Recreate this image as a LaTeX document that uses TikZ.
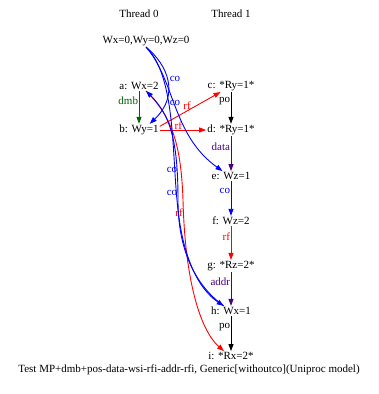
\documentclass[tikz,border=0pt]{standalone}
\usepackage{fontspec}
\setmainfont{Liberation Serif}
\usetikzlibrary{arrows.meta,positioning}

\definecolor{dmbgreen}{RGB}{0,100,0}
\definecolor{deppurple}{RGB}{75,0,130}

\begin{document}
\begin{tikzpicture}[x=1pt,y=-1pt,node distance=45pt,on grid,
    >={Triangle[length=7pt,width=5pt]},
    ev/.style={inner sep=1pt,font=\fontsize{11}{13}\selectfont},
    lbl/.style={inner sep=0.5pt,font=\fontsize{11}{13}\selectfont},
    rel/.style={->,line width=0.9pt},
    every edge/.style={draw,rel}]
   \useasboundingbox (0,0) rectangle (379,394);
   % events
   \node[ev] (a) at (139,86) {a: Wx=2};
   \node[ev] (b) [below=44pt of a] {b: Wy=1};
   \node[ev] (c) [right=92pt of a] {c: *Ry=1*};
   \node[ev] (d) [below=44pt of c] {d: *Ry=1*};
   \node[ev] (e) [below=46pt of d] {e: Wz=1};
   \node[ev] (f) [below=of e] {f: Wz=2};
   \node[ev] (g) [below=of f] {g: *Rz=2*};
   \node[ev] (h) [below=of g] {h: Wx=1};
   \node[ev] (i) [below=of h] {i: *Rx=2*};
   \node[ev] (th0) [above=72pt of a] {Thread 0};
   \node[ev] (th1) [above=72pt of c] {Thread 1};
   \node[ev] (init) at (146,41) {Wx=0,Wy=0,Wz=0};
   \node[ev] (cap) at (189,370) {Test MP+dmb+pos-data-wsi-rfi-addr-rfi, Generic[withoutco](Uniproc model)};
   % program order and dependencies
   \path
    (a) edge[dmbgreen] node[lbl,left,pos=0.3,dmbgreen] {dmb} (b)
    (c) edge node[lbl,left,pos=0.3] {po} (d)
    (d) edge[deppurple] node[lbl,left,pos=0.3,deppurple] {data} (e)
    (e) edge[blue] node[lbl,left,pos=0.3,blue] {co} (f)
    (f) edge[red] node[lbl,left,pos=0.3,red] {rf} (g)
    (g) edge[deppurple] node[lbl,left,pos=0.3,deppurple] {addr} (h)
    (h) edge node[lbl,left,pos=0.3] {po} (i)
    (b.10) edge[red] node[lbl,above,pos=0.45,red] {rf} (c.-150)
    (b.east) edge[red] node[lbl,above,pos=0.4,red] {rf} (d.west);
   % coherence and read-from curves
   \draw[rel,red] (a.-35) .. controls (170,115) and (181,140) .. (183,200)
     .. controls (185,280) and (200,330) .. (i.145)
     node[lbl,red] at (179,213) {rf};
   \draw[rel,blue] (init.south) .. controls (168,65) and (180,95) .. (b.30)
     node[lbl,blue] at (175,79) {co};
   \draw[rel,blue] (init.south) .. controls (175,80) and (172,135) .. (e.150)
     node[lbl,blue] at (175,103) {co};
   \draw[rel,blue] (init.south) .. controls (175,75) and (172,150) .. (177,200)
     .. controls (182,260) and (200,290) .. (h.145)
     node[lbl,blue] at (172,170) {co};
   \draw[rel,blue] (h.145) .. controls (195,285) and (178,250) .. (178,200)
     .. controls (178,140) and (170,115) .. (a.-35)
     node[lbl,blue] at (172,193) {co};
\end{tikzpicture}
\end{document}
